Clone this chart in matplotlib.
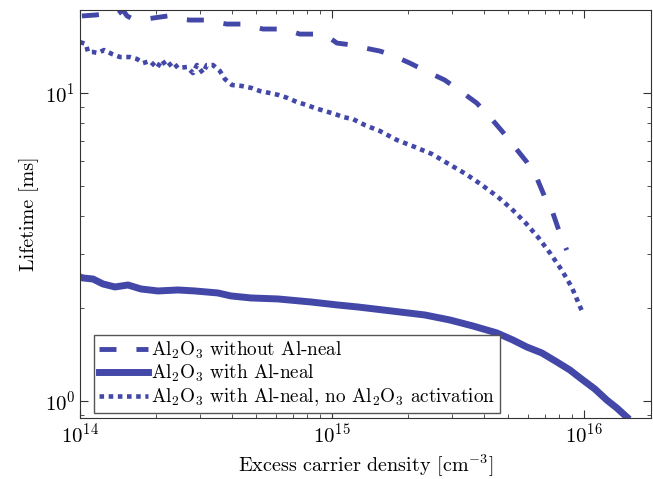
import matplotlib
matplotlib.use("Agg")
import matplotlib.pyplot as plt

plt.rcParams["font.family"] = "serif"
plt.rcParams["font.serif"] = ["cmr10"]
plt.rcParams["mathtext.fontset"] = "cm"
plt.rcParams["axes.formatter.use_mathtext"] = True

COLOR = "#4348a8"

# Al2O3 without Al-neal (dashed)
n_dash = [1.018e14, 1.147e14, 1.256e14, 1.34e14, 1.415e14, 1.481e14, 1.537e14, 1.594e14,
          1.811e14, 1.949e14, 2.234e14, 2.494e14, 2.733e14, 3.19e14, 3.434e14, 3.831e14,
          4.436e14, 4.949e14, 5.325e14, 6.219e14, 6.813e14, 7.464e14, 8.72e14, 9.82e14,
          1.047e15, 1.212e15, 1.352e15, 1.55e15, 1.73e15, 2.04e15, 2.404e15, 2.806e15,
          3.28e15, 3.76e15, 4.24e15, 4.77e15, 5.32e15, 5.94e15, 6.51e15, 7.0e15,
          7.54e15, 8.03e15, 8.56e15]
tau_dash = [17.8, 17.92, 18.06, 17.92, 18.06, 18.6, 17.8, 17.52,
            17.39, 17.52, 17.8, 17.39, 17.26, 17.26, 17.0, 16.75,
            16.75, 16.38, 16.14, 16.14, 15.9, 15.54, 15.54, 15.09,
            14.53, 14.31, 14.0, 13.69, 13.29, 12.51, 11.7, 11.02,
            10.07, 9.28, 8.36, 7.47, 6.68, 5.97, 5.3, 4.6,
            4.08, 3.51, 3.09]

# Al2O3 with Al-neal (solid)
n_solid = [1.0e14, 1.028e14, 1.126e14, 1.234e14, 1.377e14, 1.551e14, 1.746e14, 2.04e14,
           2.448e14, 2.86e14, 3.528e14, 3.974e14, 4.771e14, 6.106e14, 8.254e14, 1.056e15,
           1.268e15, 1.481e15, 1.861e15, 2.339e15, 2.94e15, 3.627e15, 4.516e15, 5.226e15,
           5.94e15, 6.813e15, 7.815e15, 8.8e15, 9.91e15, 1.106e16, 1.234e16, 1.352e16,
           1.481e16]
tau_solid = [2.527, 2.508, 2.489, 2.398, 2.345, 2.38, 2.31, 2.276,
             2.293, 2.276, 2.242, 2.193, 2.16, 2.144, 2.096, 2.049,
             2.019, 1.989, 1.945, 1.902, 1.832, 1.752, 1.663, 1.578,
             1.497, 1.432, 1.339, 1.261, 1.17, 1.094, 1.007, 0.949,
             0.887]

# Al2O3 with Al-neal, no Al2O3 activation (dotted)
n_dot = [1.0e14, 1.028e14, 1.056e14, 1.076e14, 1.126e14, 1.179e14, 1.245e14, 1.34e14,
         1.441e14, 1.579e14, 1.684e14, 1.778e14, 1.896e14, 2.021e14, 2.116e14, 2.214e14,
         2.339e14, 2.448e14, 2.661e14, 2.809e14, 2.913e14, 3.077e14, 3.19e14, 3.372e14,
         3.594e14, 3.762e14, 4.01e14, 4.395e14, 4.815e14, 5.179e14, 5.675e14, 6.162e14,
         6.689e14, 7.262e14, 7.958e14, 8.561e14, 9.38e14, 1.028e15, 1.106e15, 1.212e15,
         1.352e15, 1.55e15, 1.811e15, 2.135e15, 2.494e15, 2.913e15, 3.402e15, 3.937e15,
         4.558e15, 5.179e15, 5.886e15, 6.628e15, 7.396e15, 8.178e15, 8.963e15, 9.91e15]
tau_dot = [14.64, 14.53, 14.42, 13.59, 13.59, 13.49, 13.79, 13.39,
           13.09, 13.09, 12.9, 12.51, 12.7, 12.06, 12.8, 12.15,
           12.61, 12.06, 12.15, 11.61, 12.33, 11.61, 12.33, 12.33,
           11.79, 11.1, 10.62, 10.54, 10.38, 10.15, 10.0, 9.85,
           9.63, 9.35, 9.14, 8.94, 8.74, 8.55, 8.36, 8.23,
           7.87, 7.53, 7.04, 6.68, 6.34, 5.88, 5.46, 5.03,
           4.6, 4.2, 3.78, 3.38, 3.0, 2.66, 2.34, 1.93]

labels = [r"Al$_2$O$_3$ without Al-neal",
          r"Al$_2$O$_3$ with Al-neal",
          r"Al$_2$O$_3$ with Al-neal, no Al$_2$O$_3$ activation"]

fig = plt.figure(figsize=(6.53, 4.79), dpi=100)
ax = fig.add_axes([0.1225, 0.1273, 0.8745, 0.8517])

ax.plot(n_dash, tau_dash, color=COLOR, lw=3.5, ls=(0, (3.5, 4.1)), label=labels[0])
ax.plot(n_solid, tau_solid, color=COLOR, lw=5, ls="-", label=labels[1])
ax.plot(n_dot, tau_dot, color=COLOR, lw=3.3, ls=(0, (1, 1)), label=labels[2])

ax.set_xscale("log")
ax.set_yscale("log")
ax.set_xlim(1e14, 1.85e16)
ax.set_ylim(0.88, 18.6)

ax.set_xlabel(r"Excess carrier density [cm$^{-3}$]", fontsize=14.5)
ax.set_ylabel("Lifetime [ms]", fontsize=14.5)

ax.tick_params(which="both", direction="in", top=True, right=True,
               color="#333333", labelsize=15)
ax.tick_params(which="major", length=6)
ax.tick_params(which="minor", length=3)
for s in ax.spines.values():
    s.set_color("#333333")

leg = ax.legend(loc="lower left", bbox_to_anchor=(0.0245, 0.0123), borderaxespad=0,
                fancybox=False, edgecolor="#555555", fontsize=13.8,
                handlelength=2.55, handletextpad=0.15, labelspacing=0.12,
                borderpad=0.25, framealpha=1)
leg.get_frame().set_linewidth(1.0)

fig.savefig("out.png", dpi=100)
